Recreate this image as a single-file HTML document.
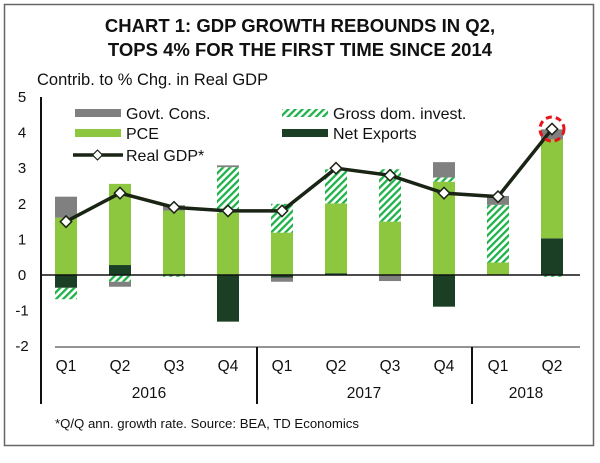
<!DOCTYPE html>
<html><head><meta charset="utf-8"><style>
body{margin:0;background:#fff;}
svg{display:block;font-family:"Liberation Sans",Arial,sans-serif;}
</style></head><body>
<svg id="chart" width="600" height="463" viewBox="0 0 600 463">
<defs>
<pattern id="hatch" patternUnits="userSpaceOnUse" width="5" height="5" patternTransform="rotate(45)">
<rect width="5" height="5" fill="#fff"/>
<rect width="2.3" height="5" fill="#1fb24a"/>
</pattern>
</defs>
<rect x="4.5" y="4.5" width="589" height="441" fill="#fff" stroke="#666" stroke-width="1.5"/>
<text x="300" y="32" text-anchor="middle" font-size="18.5" font-weight="bold" fill="#111">CHART 1: GDP GROWTH REBOUNDS IN Q2,</text>
<text x="300" y="56" text-anchor="middle" font-size="18.5" font-weight="bold" fill="#111">TOPS 4% FOR THE FIRST TIME SINCE 2014</text>
<text x="37" y="85" font-size="16.5" fill="#111">Contrib. to % Chg. in Real GDP</text>
<g id="plot"></g>
<text x="55" y="428" font-size="13.2" fill="#111">*Q/Q ann. growth rate. Source: BEA, TD Economics</text>
</svg>
<script>
const quarters=["Q1","Q2","Q3","Q4","Q1","Q2","Q3","Q4","Q1","Q2"];
const years=["2016","2017","2018"];
const yTicks=[5,4,3,2,1,0,-1,-2];
const govt=[0.59,-0.14,0.15,0.05,-0.12,0,-0.17,0.43,0.25,0.28];
const pce=[1.61,2.28,1.81,1.75,1.19,1.96,1.5,2.62,0.35,2.78];
const gdi=[-0.32,-0.19,-0.05,1.28,0.81,0.96,1.47,0.12,1.62,-0.05];
const netx=[-0.36,0.28,0,-1.31,-0.07,0.05,0,-0.89,0,1.03];
const gdp=[1.5,2.3,1.9,1.8,1.8,3.0,2.8,2.3,2.2,4.1];

const NS="http://www.w3.org/2000/svg";
const plot=document.getElementById('plot');
const y0=275, unit=35.6, x0=66, step=54.0, bw=22;
const Y=v=>y0-v*unit;
const X=i=>x0+i*step;
function mk(tag,attrs,parent){const e=document.createElementNS(NS,tag);for(const k in attrs)e.setAttribute(k,attrs[k]);(parent||plot).appendChild(e);return e;}

yTicks.forEach(t=>{
  const e=mk('text',{x:22,y:Y(t)+5,'text-anchor':'middle','font-size':15,fill:'#111'});
  e.textContent=t;
  
  
});
const ax=mk('line',{x1:41,y1:97,x2:41,y2:404,stroke:'#111','stroke-width':2});



const colors={netx:'#1a3f24',pce:'#8dc63f',gdi:'url(#hatch)',govt:'#808080'};
const series=[['netx',netx],['pce',pce],['gdi',gdi],['govt',govt]];
for(let i=0;i<quarters.length;i++){
  let pos=0,neg=0;
  series.forEach(([name,arr])=>{
    const v=arr[i]; if(!v) return;
    let a,b;
    if(v>0){a=pos;b=pos+v;pos=b;} else {a=neg;b=neg+v;neg=b;}
    const top=Math.min(Y(a),Y(b)), h=Math.abs(Y(a)-Y(b));
    const r=mk('rect',{x:X(i)-bw/2,y:top,width:bw,height:h,fill:colors[name]});
    
    
  });
}
const zl=mk('line',{x1:41,y1:y0,x2:580,y2:y0,stroke:'#111','stroke-width':1.5});



const pl=mk('polyline',{points:gdp.map((v,i)=>X(i)+','+Y(v)).join(' '),fill:'none',stroke:'#1a2414','stroke-width':3.5});


gdp.forEach((v,i)=>{
  const d=mk('rect',{x:X(i)-4,y:Y(v)-4,width:8,height:8,fill:'#fff',stroke:'#1a2414','stroke-width':1.5,transform:`rotate(45 ${X(i)} ${Y(v)})`});
  
  
});
const last=gdp.length-1;
const hc=mk('circle',{cx:X(last),cy:Y(gdp[last]),r:12,fill:'none',stroke:'#e8141b','stroke-width':3,'stroke-dasharray':'6 4'});



const cl=mk('line',{x1:55,y1:347,x2:580,y2:347,stroke:'#555','stroke-width':1.2});


[257,472].forEach(x=>{
  const s=mk('line',{x1:x,y1:347,x2:x,y2:404,stroke:'#111','stroke-width':2});
  
  
});
quarters.forEach((q,i)=>{
  const t=mk('text',{x:X(i),y:371,'text-anchor':'middle','font-size':15.5,fill:'#111'});
  t.textContent=q;
  
  
});
const yearX=[149,364,526];
years.forEach((yr,i)=>{
  const t=mk('text',{x:yearX[i],y:398,'text-anchor':'middle','font-size':15.5,fill:'#111'});
  t.textContent=yr;
  
  
});

const lg=mk('g',{});


const items=[[75,113,'#808080','Govt. Cons.'],[75,133,'#8dc63f','PCE'],[282,113,'url(#hatch)','Gross dom. invest.'],[282,133,'#1a3f24','Net Exports']];
items.forEach(([x,y,f,l])=>{
  const r=mk('rect',{x:x,y:y-4,width:46,height:8,fill:f},lg);
  
  
  const t=mk('text',{x:x+51,y:y+6,'font-size':16,fill:'#111'},lg);
  t.textContent=l;
  
  
});
const ll=mk('line',{x1:73,y1:155,x2:123,y2:155,stroke:'#1a2414','stroke-width':3.5},lg);


const ld=mk('rect',{x:94,y:151.5,width:7,height:7,fill:'#fff',stroke:'#1a2414','stroke-width':1.2,transform:'rotate(45 97.5 155)'},lg);


const lt=mk('text',{x:126,y:161,'font-size':16,fill:'#111'},lg);
lt.textContent='Real GDP*';


</script>
</body></html>
